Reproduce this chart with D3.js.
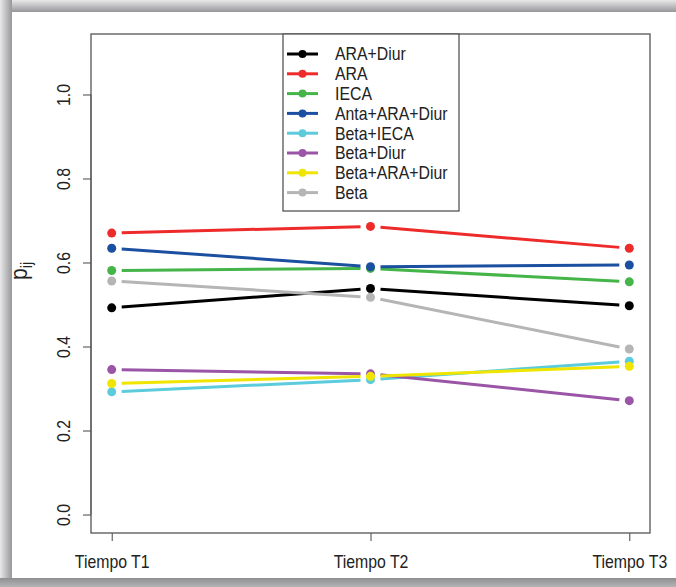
<!DOCTYPE html>
<html>
<head>
<meta charset="utf-8">
<script src="https://cdn.jsdelivr.net/npm/d3@7"></script>
<style>
  body { margin: 0; background: #fff; }
  text { font-family: "Liberation Sans", Arial, sans-serif; fill: #222; }
</style>
</head>
<body>
<svg width="676" height="587"></svg>
<script>
// time points on the x axis
const times = ["Tiempo T1", "Tiempo T2", "Tiempo T3"];

// one series per treatment group
const seriesNames = ["ARA+Diur", "ARA", "IECA", "Anta+ARA+Diur", "Beta+IECA", "Beta+Diur", "Beta+ARA+Diur", "Beta"];
const seriesColors = ["#000000", "#ee2b2b", "#45b54a", "#1b4fa0", "#5ccbdb", "#9b55a7", "#f0e500", "#b5b5b5"];

const araDiur     = [0.492, 0.538, 0.497];
const ara         = [0.670, 0.686, 0.634];
const ieca        = [0.581, 0.586, 0.554];
const antaAraDiur = [0.634, 0.590, 0.594];
const betaIeca    = [0.292, 0.321, 0.365];
const betaDiur    = [0.345, 0.335, 0.271];
const betaAraDiur = [0.312, 0.329, 0.353];
const beta        = [0.556, 0.517, 0.394];

const yTicks = [0, 0.2, 0.4, 0.6, 0.8, 1.0];

const values = [araDiur, ara, ieca, antaAraDiur, betaIeca, betaDiur, betaAraDiur, beta];
const series = seriesNames.map((name, i) => ({ name, color: seriesColors[i], values: values[i] }));

const width = 676, height = 587;
const margin = ({ top: 34, right: 26, bottom: 54, left: 91 });
const squeeze = "scale(0.88,1)"; // the picture's text is narrow

const svg = d3.select("svg");

// --- frame with a grey shadow on top, left and bottom
const defs = svg.append("defs");
const grad = (id, x2, y2, c0, c1) => {
    const g = defs.append("linearGradient").attr("id", id)
        .attr("x1", 0).attr("y1", 0).attr("x2", x2).attr("y2", y2);
    g.append("stop").attr("offset", 0).attr("stop-color", c0);
    g.append("stop").attr("offset", 1).attr("stop-color", c1);
};
grad("gTop", 0, 1, "#e8e8e9", "#97979a");
grad("gLeft", 1, 0, "#e8e8e9", "#97979a");
grad("gBot", 0, 1, "#8f8f92", "#b4b4b6");

svg.append("rect").attr("x", 0).attr("y", 0).attr("width", width).attr("height", 12).attr("fill", "url(#gTop)");
svg.append("rect").attr("x", 0).attr("y", 0).attr("width", 12).attr("height", height).attr("fill", "url(#gLeft)");
svg.append("rect").attr("x", 0).attr("y", 578).attr("width", width).attr("height", 9).attr("fill", "url(#gBot)");
svg.append("rect").attr("x", 12).attr("y", 12).attr("width", width - 12).attr("height", 566).attr("fill", "#fff");

// --- scales (R style 4% padding)
const xi = d3.scaleLinear().domain([0.92, 3.08]).range([margin.left, width - margin.right]);
const y = d3.scaleLinear().domain([-0.044, 1.144]).range([height - margin.bottom, margin.top]);
const xPos = i => xi(i + 1);

// --- axes
const yAxis = svg.append("g")
    .attr("transform", `translate(${margin.left},0)`)
    .call(d3.axisLeft(y).tickValues(yTicks).tickFormat(d3.format(".1f")).tickSize(8).tickPadding(14));
yAxis.select(".domain").attr("stroke", "#555").attr("d", `M0,${y(0)}V${y(1)}`);
yAxis.selectAll(".tick line").attr("stroke", "#444");
yAxis.selectAll(".tick text")
    .attr("font-size", 18).attr("fill", "#222")
    .attr("transform", "rotate(-90) " + squeeze)
    .attr("x", 0).attr("dy", 0).attr("y", -21)
    .attr("text-anchor", "middle");

const xAxis = svg.append("g")
    .attr("transform", `translate(0,${height - margin.bottom})`)
    .call(d3.axisBottom(xi).tickValues([1, 2, 3]).tickFormat(d => times[d - 1]).tickSize(8).tickPadding(14));
xAxis.select(".domain").remove();
xAxis.selectAll(".tick line").attr("stroke", "#444");
xAxis.selectAll(".tick text").attr("font-size", 18).attr("fill", "#222")
    .attr("dy", "0.71em").attr("transform", squeeze);

// plot box
svg.append("rect")
    .attr("x", margin.left).attr("y", margin.top)
    .attr("width", width - margin.left - margin.right)
    .attr("height", height - margin.top - margin.bottom)
    .attr("fill", "none").attr("stroke", "#555").attr("stroke-width", 1.3);

// y label p_ij
const ylab = svg.append("text")
    .attr("transform", `translate(27,${y(0.58)}) rotate(-90) ${squeeze}`)
    .attr("text-anchor", "middle")
    .attr("font-size", 24).attr("fill", "#222");
ylab.append("tspan").text("p");
ylab.append("tspan").attr("font-size", 16).attr("dy", 5).text("ij");

// --- lines, R type "b" (gaps around points)
const gap = 10;
const lines = svg.append("g");
series.forEach(s => {
    const pts = s.values.map((v, i) => [xPos(i), y(v)]);
    d3.pairs(pts).forEach(([[x0, y0], [x1, y1]]) => {
        const len = Math.hypot(x1 - x0, y1 - y0);
        const ux = (x1 - x0) / len, uy = (y1 - y0) / len;
        lines.append("line")
            .attr("x1", x0 + ux * gap).attr("y1", y0 + uy * gap)
            .attr("x2", x1 - ux * gap).attr("y2", y1 - uy * gap)
            .attr("stroke", s.color).attr("stroke-width", 3);
    });
    lines.selectAll(null)
        .data(s.values)
        .join("circle")
        .attr("cx", (d, i) => xPos(i))
        .attr("cy", d => y(d))
        .attr("r", 4.5)
        .attr("fill", s.color);
});

// --- legend
const lg = svg.append("g");
lg.append("rect")
    .attr("x", 283).attr("y", margin.top)
    .attr("width", 176).attr("height", 177)
    .attr("fill", "#fff").attr("stroke", "#555").attr("stroke-width", 1.3);
const item = lg.selectAll("g.item")
    .data(series)
    .join("g")
    .attr("class", "item")
    .attr("transform", (d, i) => `translate(0,${54 + i * 19.8})`);
item.append("line")
    .attr("x1", 287).attr("x2", 318)
    .attr("stroke", d => d.color).attr("stroke-width", 3);
item.append("circle")
    .attr("cx", 302.5).attr("r", 4)
    .attr("fill", d => d.color);
item.append("text")
    .attr("transform", `translate(335,0) ${squeeze}`)
    .attr("dy", "0.36em")
    .attr("font-size", 18)
    .text(d => d.name);
</script>
</body>
</html>
